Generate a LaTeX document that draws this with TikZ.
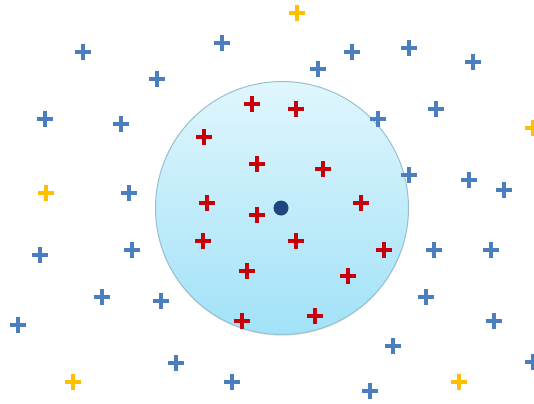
\documentclass[tikz,border=0pt]{standalone}
\usepackage{tikz}
\usetikzlibrary{shapes.misc,shadows}
\definecolor{ptblue}{RGB}{74,126,190}
\definecolor{ptred}{RGB}{200,0,10}
\definecolor{ptyellow}{RGB}{255,192,0}
\definecolor{ptnavy}{RGB}{28,70,125}
\definecolor{discrim}{RGB}{150,192,208}
\definecolor{disctop}{RGB}{224,246,253}
\definecolor{discbot}{RGB}{162,226,248}

\begin{document}
\begin{tikzpicture}[
    x=0.5pt,y=-0.5pt,
    plus/.style={cross out,draw,rotate=45,line width=1.55pt,
                 minimum size=4.2pt,inner sep=0pt},
    bplus/.style={plus,ptblue},
    rplus/.style={plus,ptred},
    yplus/.style={plus,ptyellow},
    disc/.style={circle,draw=discrim,line width=0.5pt,
                 top color=disctop,bottom color=discbot,
                 drop shadow={shadow xshift=0pt,shadow yshift=-0.6pt,
                              opacity=0.25},
                 minimum size=126.5pt,inner sep=0pt},
    query/.style={circle,fill=ptnavy,minimum size=7.5pt,inner sep=0pt}
  ]
    \useasboundingbox (0,0) rectangle (534,403);

    % neighbourhood
    \node[disc] (hood) at (282,208) {};
    \node[query] (q) at (281,208) {};

    % points inside
    \foreach \x/\y [count=\i] in {252/104,296/109,204/137,257/164,323/169,
        207/203,361/203,257/215,203/241,296/241,384/250,247/271,348/276,
        242/321,315/316}
      \node[rplus] (r\i) at (\x,\y) {};

    % points outside
    \foreach \x/\y [count=\i] in {83/52,222/43,157/79,318/69,352/52,409/48,
        473/62,45/119,121/124,378/119,436/109,409/175,469/180,504/190,
        129/193,40/255,132/250,434/250,491/250,102/297,161/301,426/297,
        494/321,18/325,393/346,176/363,232/382,370/391,533/362}
      \node[bplus] (b\i) at (\x,\y) {};

    % other class
    \foreach \x/\y [count=\i] in {297/13,46/193,533/128,73/382,459/382}
      \node[yplus] (y\i) at (\x,\y) {};
\end{tikzpicture}
\end{document}
